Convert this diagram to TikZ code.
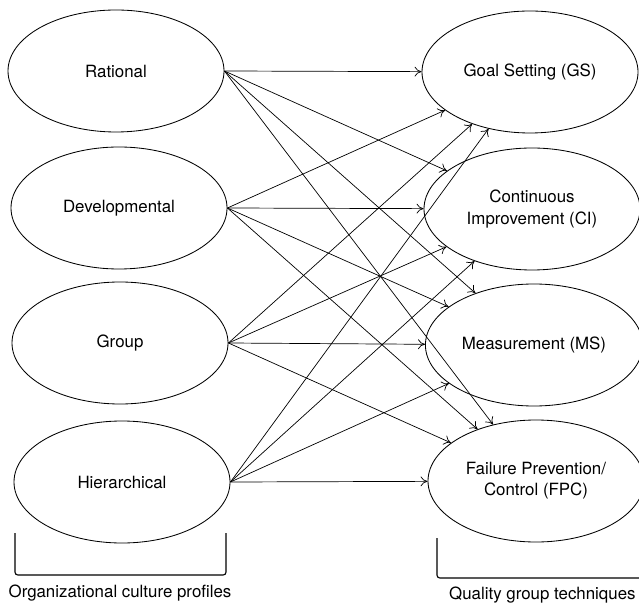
\documentclass[tikz,border=0pt]{standalone}
\usepackage{fontspec}
\setmainfont{TeX Gyre Heros}
\usetikzlibrary{shapes.geometric,arrows.meta}

\begin{document}
\begin{tikzpicture}[
        profile/.style={draw, ellipse, line width=0.6pt, minimum width=5.4cm, minimum height=3.05cm, align=center, font=\fontsize{12}{15}\selectfont},
        link/.style={line width=0.5pt, -{To[length=5pt,width=7pt]}},
        bracket/.style={line width=0.8pt, rounded corners=2pt}
    ]
        \useasboundingbox (0,0) rectangle (15.975,15.125);

        %Organisationskultur
        \node[profile] (Rational) at (2.9,13.35) {Rational};
        \node[profile] (Developmental) at (2.975,9.925) {Developmental};
        \node[profile] (Group) at (3.0,6.55) {Group};
        \node[profile] (Hierarchical) at (3.05,3.075) {Hierarchical};

        %Qualitaetstechniken
        \node[profile] (GS) at (13.25,13.325) {Goal Setting (GS)};
        \node[profile] (CI) at (13.3,9.9) {Continuous\\Improvement (CI)};
        \node[profile] (MS) at (13.35,6.5) {Measurement (MS)};
        \node[profile] (FPC) at (13.4,3.1) {Failure Prevention/\\Control (FPC)};

        %Klammern
        \draw[bracket] (0.375,1.8) -- (0.375,0.75) -- (5.65,0.75) -- (5.65,1.8);
        \node[font=\fontsize{12}{15}\selectfont] (profiles) at (3.0,0.3) {Organizational culture profiles};
        \draw[bracket] (10.925,1.675) -- (10.925,0.675) -- (15.975,0.675);
        \node[font=\fontsize{12}{15}\selectfont] (techniques) at (13.56,0.25) {Quality group techniques};

        \draw[link] (Rational.east) -- (GS);
        \draw[link] (Rational.east) -- (CI);
        \draw[link] (Rational.east) -- (MS);
        \draw[link] (Rational.east) -- (FPC);
        \draw[link] (Developmental.east) -- (GS);
        \draw[link] (Developmental.east) -- (CI);
        \draw[link] (Developmental.east) -- (MS);
        \draw[link] (Developmental.east) -- (FPC);
        \draw[link] (Group.east) -- (GS);
        \draw[link] (Group.east) -- (CI);
        \draw[link] (Group.east) -- (MS);
        \draw[link] (Group.east) -- (FPC);
        \draw[link] (Hierarchical.east) -- (GS);
        \draw[link] (Hierarchical.east) -- (CI);
        \draw[link] (Hierarchical.east) -- (MS);
        \draw[link] (Hierarchical.east) -- (FPC);
    \end{tikzpicture}
\end{document}
